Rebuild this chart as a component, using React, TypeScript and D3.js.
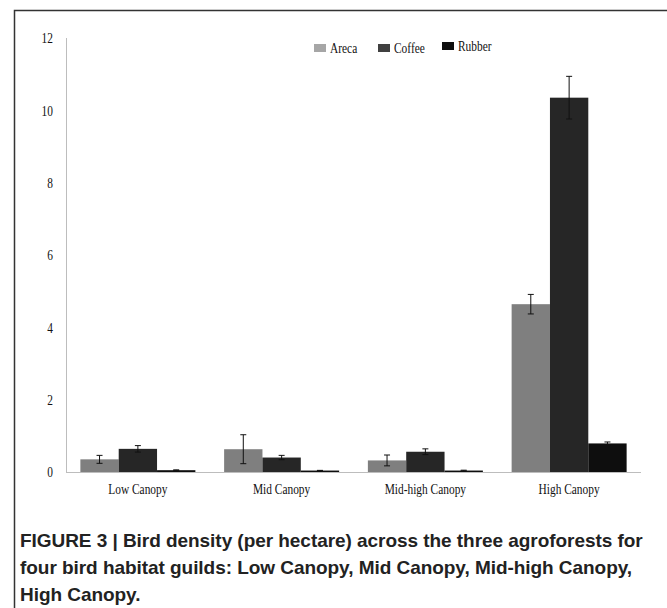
import { useEffect, useRef } from 'react';
import * as d3 from 'd3';

// data
const categories = ['Low Canopy', 'Mid Canopy', 'Mid-high Canopy', 'High Canopy'];
const seriesNames = ['Areca', 'Coffee', 'Rubber'];
const areca = [0.35, 0.63, 0.32, 4.64];
const coffee = [0.64, 0.4, 0.56, 10.35];
const rubber = [0.05, 0.04, 0.04, 0.79];
const arecaErr = [0.11, 0.4, 0.15, 0.27];
const coffeeErr = [0.09, 0.06, 0.08, 0.59];
const rubberErr = [0.01, 0.005, 0.01, 0.04];
const yTicks = [0, 2, 4, 6, 8, 10, 12];
const captionLines = [
  'FIGURE 3 | Bird density (per hectare) across the three agroforests for',
  'four bird habitat guilds: Low Canopy, Mid Canopy, Mid-high Canopy,',
  'High Canopy.',
];

const barColors = ['#7f7f7f', '#262626', '#0e0e0e'];
const legendColors = ['#a6a6a6', '#404040', '#0e0e0e'];
const serif = '"Liberation Serif", "Times New Roman", serif';
const squish = 0.76; // the chart text in the figure is horizontally condensed

function App() {
  const ref = useRef<SVGSVGElement>(null);

  useEffect(() => {
    const svg = d3.select(ref.current);
    svg.selectAll('*').remove();

    const W = 667;
    const H = 608;
    const left = 66;
    const right = 641;
    const top = 38;
    const bottom = 472;

    // frame (left + top edges only visible)
    svg.append('path')
      .attr('d', `M14.5,${H} L14.5,10.5 L${W},10.5`)
      .attr('fill', 'none')
      .attr('stroke', '#333')
      .attr('stroke-width', 1.5);

    const x = d3.scaleBand<string>()
      .domain(categories)
      .range([left, right])
      .paddingInner(0.2)
      .paddingOuter(0.1);

    const x1 = d3.scaleBand<string>()
      .domain(seriesNames)
      .range([0, x.bandwidth()]);

    const y = d3.scaleLinear().domain([0, 12]).range([bottom, top]);

    const g = svg.append('g');

    // y tick labels
    g.selectAll('text.ytick')
      .data(yTicks)
      .enter()
      .append('text')
      .attr('class', 'ytick')
      .attr('transform', d => `translate(53,${y(d)}) scale(${squish},1)`)
      .attr('dy', '0.35em')
      .attr('text-anchor', 'end')
      .style('font-family', serif)
      .style('font-size', '15px')
      .style('fill', '#111')
      .text(d => d);

    const values = [areca, coffee, rubber];
    const errs = [arecaErr, coffeeErr, rubberErr];

    seriesNames.forEach((s, si) => {
      const data = categories.map((c, i) => ({ c, v: values[si][i], e: errs[si][i] }));
      g.selectAll(`rect.s${si}`)
        .data(data)
        .enter()
        .append('rect')
        .attr('class', `s${si}`)
        .attr('x', d => x(d.c)! + x1(s)!)
        .attr('y', d => y(d.v))
        .attr('width', x1.bandwidth())
        .attr('height', d => y(0) - y(d.v))
        .attr('fill', barColors[si]);

      // error bars
      const eg = g.selectAll(`g.e${si}`)
        .data(data)
        .enter()
        .append('g')
        .attr('class', `e${si}`)
        .attr('transform', d => `translate(${x(d.c)! + x1(s)! + x1.bandwidth() / 2},0)`);
      eg.append('line')
        .attr('x1', 0).attr('x2', 0)
        .attr('y1', d => y(d.v + d.e))
        .attr('y2', d => y(d.v - d.e))
        .attr('stroke', '#111').attr('stroke-width', 1);
      eg.append('line')
        .attr('x1', -3).attr('x2', 3)
        .attr('y1', d => y(d.v + d.e)).attr('y2', d => y(d.v + d.e))
        .attr('stroke', '#111').attr('stroke-width', 1);
      eg.append('line')
        .attr('x1', -3).attr('x2', 3)
        .attr('y1', d => y(d.v - d.e)).attr('y2', d => y(d.v - d.e))
        .attr('stroke', '#111').attr('stroke-width', 1);
    });

    // axes lines
    g.append('line')
      .attr('x1', left + 0.5).attr('x2', left + 0.5)
      .attr('y1', top).attr('y2', bottom)
      .attr('stroke', '#bdbdbd').attr('stroke-width', 1);
    g.append('line')
      .attr('x1', left).attr('x2', right)
      .attr('y1', bottom + 0.5).attr('y2', bottom + 0.5)
      .attr('stroke', '#bdbdbd').attr('stroke-width', 1);

    // x labels
    g.selectAll('text.xlab')
      .data(categories)
      .enter()
      .append('text')
      .attr('class', 'xlab')
      .attr('transform', d => `translate(${x(d)! + x.bandwidth() / 2},494) scale(${squish},1)`)
      .attr('text-anchor', 'middle')
      .style('font-family', serif)
      .style('font-size', '15px')
      .style('fill', '#111')
      .text(d => d);

    // legend
    const legendX = [314, 378, 442];
    const lg = g.selectAll('g.leg')
      .data(seriesNames)
      .enter()
      .append('g')
      .attr('class', 'leg')
      .attr('transform', (d, i) => `translate(${legendX[i]},${i === 2 ? 42 : 44})`);
    lg.append('rect')
      .attr('width', 12).attr('height', 8)
      .attr('fill', (d, i) => legendColors[i]);
    lg.append('text')
      .attr('transform', `translate(16,9) scale(${squish},1)`)
      .style('font-family', serif)
      .style('font-size', '15px')
      .style('fill', '#111')
      .text(d => d);

    // caption
    svg.selectAll('text.cap')
      .data(captionLines)
      .enter()
      .append('text')
      .attr('class', 'cap')
      .attr('x', 20)
      .attr('y', (d, i) => 547 + i * 27)
      .style('font-family', '"Liberation Sans", Arial, sans-serif')
      .style('font-weight', 'bold')
      .style('font-size', '19px')
      .style('letter-spacing', '-0.05px')
      .style('fill', '#222')
      .text(d => d);
  }, []);

  return (
    <svg
      ref={ref}
      width={667}
      height={608}
      style={{ position: 'absolute', left: 0, top: 0, background: '#fff' }}
    />
  );
}

export default App;
